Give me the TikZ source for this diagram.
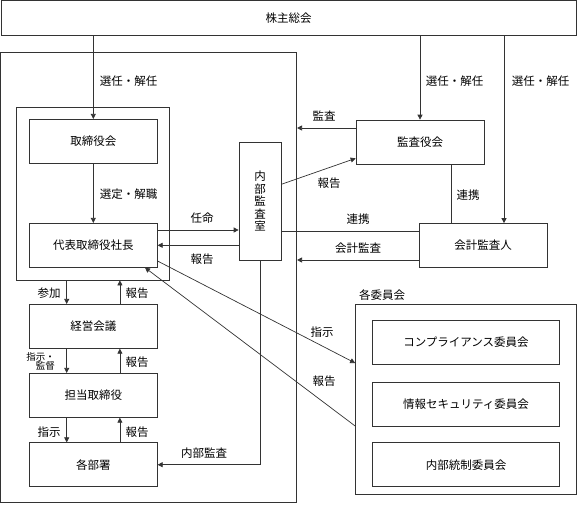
\documentclass[tikz,border=0pt]{standalone}
\usepackage{fontspec}
\setmainfont{Noto Sans CJK JP}
\usepackage{tikz}
\usetikzlibrary{arrows.meta}

\begin{document}
\begin{tikzpicture}[%
        x=1pt, y=-1pt,
        font=\fontsize{11.5}{12.5}\selectfont,
        line/.style={ draw=black!80, line width=.7pt },%
        arr/.style={ line, -{Triangle[length=5pt,width=5pt]} },%
        frame/.style={ draw=black!80, line width=.7pt, inner sep=0pt },%
        unit/.style={ frame, minimum width=128pt, minimum height=44pt },%
        comm/.style={ frame, minimum width=187pt, minimum height=44pt },%
        lbl/.style={ inner sep=0pt }%
      ]
      \useasboundingbox (0,0) rectangle (577,504);
      \node (top)     at (288.5,  18) [frame, minimum width=575pt, minimum height=34.5pt]{株主総会};
      \node (company) at (148.6,277.5) [frame, minimum width=296.2pt, minimum height=450.4pt]{};
      \node (board)   at (92.85,193.5) [frame, minimum width=152.3pt, minimum height=173pt]{};
      \node (comms)   at (465.75,399.3) [frame, minimum width=220.5pt, minimum height=190pt]{};
      \node (tori)    at ( 93.3,141.3) [unit]{取締役会};
      \node (dai)     at ( 93.3,245.3) [unit]{代表取締役社長};
      \node (keiei)   at ( 93.3,326.3) [unit]{経営会議};
      \node (tanto)   at ( 93.3,395.3) [unit]{担当取締役};
      \node (kakubu)  at ( 93.3,464.7) [unit]{各部署};
      \node (kansa)   at (  420,  142) [unit]{監査役会};
      \node (kaikei)  at (  483,245.5) [unit]{会計監査人};
      \node (naibu)   at (  260,  201) [frame, minimum width=42pt, minimum height=118pt, align=center]{内\\部\\監\\査\\室};
      \node (comp)    at (  466,342.5) [comm]{コンプライアンス委員会};
      \node (joho)    at (  466,  404) [comm]{情報セキュリティ委員会};
      \node (toseI)   at (  466,464.7) [comm]{内部統制委員会};

      \draw [arr] (top.south -| tori.north) -- (tori.north);
      \draw [arr] (top.south -| kansa.north) -- (kansa.north);
      \draw [arr] (top.south -| 504,0) -- ([xshift=21pt]kaikei.north);
      \draw [arr] (tori.south) -- (dai.north);
      \draw [arr] ([yshift=15.3pt]dai.east) -- ([yshift=15.3pt]dai.east -| naibu.west);
      \draw [arr] (naibu.west |- dai.east) -- (dai.east);
      \draw [arr] ([yshift=16.7pt]naibu.east) -- ([yshift=6pt]kansa.south west);
      \draw [arr] ([yshift=14pt]kansa.west) -- ([yshift=14pt]kansa.west -| company.east);
      \draw [line] ([xshift=31pt]kansa.south) -- ([xshift=31pt]kansa.south |- kaikei.north);
      \draw [line] ([yshift=14.5pt]kaikei.west -| naibu.east) -- ([yshift=14.5pt]kaikei.west);
      \draw [arr] ([yshift=-14.5pt]kaikei.west) -- ([yshift=-14.5pt]kaikei.west -| company.east);
      \draw [arr] ([xshift=-26.6pt]keiei.north |- board.south) -- ([xshift=-26.6pt]keiei.north);
      \draw [arr] ([xshift=26.6pt]keiei.north) -- ([xshift=26.6pt]keiei.north |- board.south);
      \draw [arr] ([xshift=-26.6pt]keiei.south) -- ([xshift=-26.6pt]tanto.north);
      \draw [arr] ([xshift=26.6pt]tanto.north) -- ([xshift=26.6pt]keiei.south);
      \draw [arr] ([xshift=-26.6pt]tanto.south) -- ([xshift=-26.6pt]kakubu.north);
      \draw [arr] ([xshift=26.6pt]kakubu.north) -- ([xshift=26.6pt]tanto.south);
      \draw [arr] (naibu.south) |- (kakubu.east);
      \draw [arr] ([yshift=6.6pt]dai.south east) -- ([yshift=36.3pt]comms.west);
      \draw [arr] ([yshift=-26.7pt]comms.west) -- ([xshift=51.7pt]dai.south);

      \node (l-sen1)  at (128.5, 81) [lbl]{選任・解任};
      \node (l-sen2)  at (454.5, 81) [lbl]{選任・解任};
      \node (l-sen3)  at (540.5, 81) [lbl]{選任・解任};
      \node (l-sentei) at (128.5,194) [lbl]{選定・解職};
      \node (l-nin)   at (  202,218) [lbl]{任命};
      \node (l-hou1)  at (  202,259) [lbl]{報告};
      \node (l-kan)   at (  324,116) [lbl]{監査};
      \node (l-hou2)  at (  329,183) [lbl]{報告};
      \node (l-ren1)  at (  468,195) [lbl]{連携};
      \node (l-ren2)  at (  358,219) [lbl]{連携};
      \node (l-kaik)  at (  358,248) [lbl]{会計監査};
      \node (l-san)   at (   49,293) [lbl]{参加};
      \node (l-hou3)  at (  137,293) [lbl]{報告};
      \node (l-shikan) at (  55,361) [lbl, anchor=east, align=right, font=\fontsize{9.5}{9}\selectfont]{指示・\\監督};
      \node (l-hou4)  at (  137,362) [lbl]{報告};
      \node (l-shi1)  at (   49,432) [lbl]{指示};
      \node (l-hou5)  at (  137,432) [lbl]{報告};
      \node (l-naik)  at (  204,453) [lbl]{内部監査};
      \node (l-shi2)  at (  322,332) [lbl]{指示};
      \node (l-hou6)  at (  324,381) [lbl]{報告};
      \node (l-iin)   at (  382,295) [lbl]{各委員会};
    \end{tikzpicture}
\end{document}
